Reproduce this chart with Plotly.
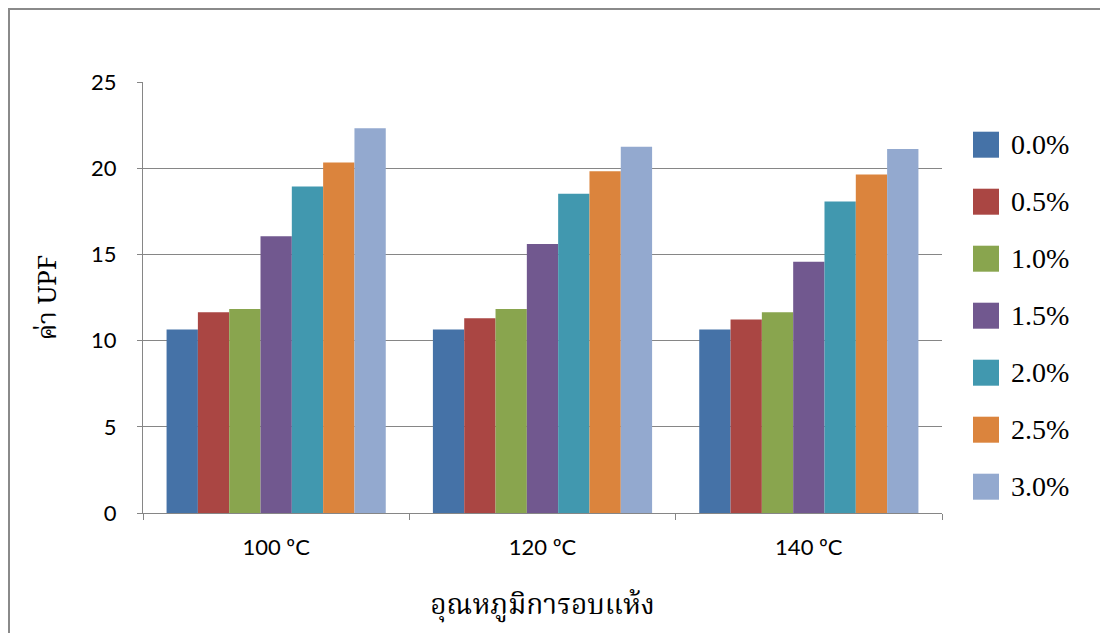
import plotly.graph_objects as go

categories = ["100 ºC", "120 ºC", "140 ºC"]
series_names = ["0.0%", "0.5%", "1.0%", "1.5%", "2.0%", "2.5%", "3.0%"]
values_00 = [10.64, 10.64, 10.64]
values_05 = [11.64, 11.29, 11.22]
values_10 = [11.83, 11.83, 11.64]
values_15 = [16.06, 15.60, 14.57]
values_20 = [18.94, 18.52, 18.07]
values_25 = [20.33, 19.83, 19.63]
values_30 = [22.32, 21.24, 21.11]
all_values = [values_00, values_05, values_10, values_15, values_20, values_25, values_30]

COLORS = ["#4572A7", "#AA4643", "#89A54E", "#71588F", "#4198AF", "#DB843D", "#93A9CF"]
GRID = "#868686"
THAI_FONT = "Angsana New, Noto Serif Thai, Noto Sans Thai, Loma, Garuda, Liberation Serif, serif"

# page body has an 8px margin, so the figure is drawn 8px right/down
OFF = 8
W, H = 1108 - OFF, 633 - OFF
# plot area in page pixels
L, R, T, B = 143, 942, 82, 513
pw, ph = R - L, B - T


def px_x(x):
    return (x - L) / pw


def px_y(y):
    return (B - y) / ph


fig = go.Figure()
for name, vals, col in zip(series_names, all_values, COLORS):
    fig.add_trace(go.Bar(
        x=categories, y=vals, name=name,
        marker=dict(color=col, line_width=0),
        showlegend=False,
    ))

# hand-drawn legend (big squares like the original)
shapes = []
annotations = []
for i, (name, col) in enumerate(zip(series_names, COLORS)):
    cy = 144.7 + 57 * i
    shapes.append(dict(
        type="rect", xref="paper", yref="paper",
        x0=px_x(973), x1=px_x(999), y0=px_y(cy + 13), y1=px_y(cy - 13),
        fillcolor=col, line_width=0,
    ))
    annotations.append(dict(
        text=name, xref="paper", yref="paper",
        x=px_x(1009), y=px_y(cy), xanchor="left", yanchor="middle",
        showarrow=False,
        font=dict(family="Liberation Serif, Times New Roman, serif", size=28, color="black"),
    ))

# outer chart border (right/bottom edges fall outside the picture)
shapes.append(dict(
    type="rect", xref="paper", yref="paper",
    x0=px_x(9), x1=px_x(1130), y0=px_y(660), y1=px_y(9),
    line=dict(color="#8a8a8a", width=2), fillcolor="rgba(0,0,0,0)",
    layer="below",
))

fig.update_layout(
    width=W, height=H,
    template="plotly_white",
    paper_bgcolor="white",
    plot_bgcolor="white",
    barmode="group",
    bargap=0.177,
    bargroupgap=0,
    margin=dict(l=L - OFF, r=W - (R - OFF), t=T - OFF, b=H - (B - OFF), pad=0),
    shapes=shapes,
    annotations=annotations,
    font=dict(family="Lato, Open Sans, sans-serif", size=22, color="black"),
)
fig.update_xaxes(
    showgrid=False,
    showline=True, linecolor=GRID, linewidth=1,
    ticks="outside", tickson="boundaries", ticklen=6, tickcolor=GRID,
    ticklabelstandoff=15,
    tickfont=dict(size=22),
    title=dict(text="อุณหภูมิการอบแห้ง", font=dict(family=THAI_FONT, size=28), standoff=34),
)
fig.update_yaxes(
    range=[0, 25], dtick=5,
    showgrid=True, gridcolor=GRID, gridwidth=1,
    zeroline=False,
    showline=True, linecolor=GRID, linewidth=1,
    ticks="outside", ticklen=5, tickcolor=GRID,
    ticklabelstandoff=16,
    tickfont=dict(size=22),
    title=dict(text="ค่า UPF", font=dict(family=THAI_FONT, size=26), standoff=26),
)

fig.write_html("out.html")
